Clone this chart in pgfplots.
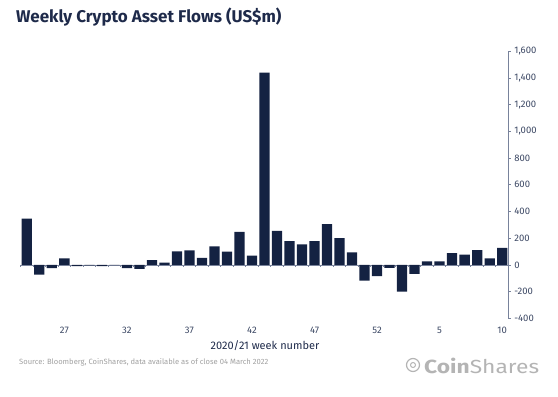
\documentclass[border=0pt]{standalone}
\usepackage{pgfplots}
\pgfplotsset{compat=1.18}
\usepackage{fontspec}
\setmainfont{Fira Sans}
\definecolor{barnavy}{RGB}{20,34,66}
\definecolor{titlenavy}{RGB}{30,42,74}
\definecolor{axisgray}{RGB}{120,130,155}
\definecolor{ticktext}{RGB}{60,72,100}
\definecolor{srcgray}{RGB}{160,160,160}
\definecolor{logogray}{RGB}{180,180,180}
\begin{document}
\begin{tikzpicture}
\path[use as bounding box] (0,0) rectangle (558bp,-397bp);
\begin{axis}[
  at={(20.6bp,-51.3bp)}, anchor=north west,
  scale only axis, width=487.8bp, height=267bp,
  xmin=0.5, xmax=39.5, ymin=-400, ymax=1600,
  axis x line*=bottom, x axis line style={draw=none},
  axis y line*=right, y axis line style={draw=axisgray, line width=0.8pt, -},
  xtick={4,9,14,19,24,29,34,39},
  xticklabels={27,32,37,42,47,52,5,10},
  xtick style={draw=none},
  ytick={-400,-200,...,1600},
  ytick style={draw=axisgray, line width=0.8pt},
  tick align=outside, major tick length=2.5bp,
  /pgf/number format/assume math mode=true,
  /pgf/number format/1000 sep={,},
  ticklabel style={font=\fontsize{9.5bp}{11bp}\selectfont, text=ticktext},
  xticklabel style={yshift=-3bp},
  extra y ticks={0}, extra y tick labels={},
  extra y tick style={grid=major, major grid style={draw=axisgray, line width=0.8pt}},
  clip=false,
]
\addplot[ybar, bar width=0.82, fill=barnavy, draw=none] coordinates {
(1,346) (2,-72) (3,-25) (4,49) (5,-10) (6,-4) (7,-10) (8,-2) (9,-25) (10,-30)
(11,35) (12,17) (13,101) (14,109) (15,52) (16,138) (17,99) (18,247) (19,69) (20,1440)
(21,254) (22,178) (23,153) (24,178) (25,306) (26,200) (27,94) (28,-118) (29,-84) (30,-22)
(31,-200) (32,-67) (33,27) (34,27) (35,89) (36,77) (37,111) (38,49) (39,128)
};
\pgfplotsinvokeforeach{0.5,1.5,...,39.5}{
  \draw[axisgray, line width=0.8pt] (axis cs:#1,0) -- ([yshift=-2.5bp]axis cs:#1,0);
}
\end{axis}
\node[anchor=base west, inner sep=0, text=titlenavy, font=\fontsize{17bp}{19bp}\selectfont\bfseries] at (16bp,-22.5bp) {Weekly Crypto Asset Flows (US\$m)};
\node[anchor=center, inner sep=0, text=titlenavy, font=\fontsize{11bp}{13bp}\selectfont] at (265bp,-346bp) {2020/21 week number};
\node[anchor=west, inner sep=0, text=srcgray, font=\fontsize{7.6bp}{9bp}\selectfont] at (19bp,-362.5bp) {Source: Bloomberg, CoinShares, data available as of close 04 March 2022};
\draw[logogray, line width=1.2pt] (413bp,-365bp) circle (6.5bp);
\draw[logogray, line width=1pt] (413bp,-365bp) circle (2.5bp);
\node[anchor=west, inner sep=0, text=logogray, font=\fontsize{19bp}{21bp}\selectfont] at (424bp,-366bp) {\scalebox{1.2}[1]{\textbf{Coin}Shares}};
\end{tikzpicture}
\end{document}
